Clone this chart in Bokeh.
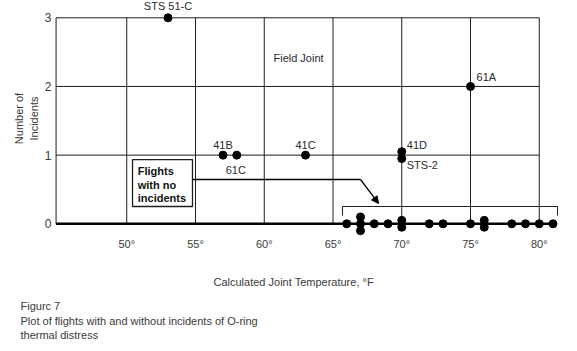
from bokeh.plotting import figure
from bokeh.models import Range1d, FixedTicker, Title, Arrow, NormalHead, ColumnDataSource
from bokeh.core.properties import value
from bokeh.embed import file_html
from bokeh.resources import INLINE

# ---- data ----
incident_temps = [53, 57, 58, 63, 70, 70, 75]
incident_counts = [3, 1, 1, 1, 1, 1, 2]
incident_names = ["STS 51-C", "41B", "61C", "41C", "41D", "STS-2", "61A"]
no_incident_temps = [66, 67, 67, 67, 68, 69, 70, 70, 72, 73, 75, 76, 76, 78, 79, 80, 81]
x_ticks = [50, 55, 60, 65, 70, 75, 80]
x_tick_labels = ["50°", "55°", "60°", "65°", "70°", "75°", "80°"]
y_ticks = [0, 1, 2, 3]
x_title = "Calculated Joint Temperature, °F"
y_title = "Number of\nIncidents"
caption = ["Figurc 7", "Plot of flights with and without incidents of O-ring", "thermal distress"]

# ---- styles ----
FONT = "Liberation Sans"
TXT = "#2a2a2a"
GRID = "#1e1e1e"
STACK_STEP = 0.1
label_style = {
    "STS 51-C": dict(dx=0, dy=-12, align="center"),
    "41B": dict(dx=0, dy=-10, align="center"),
    "61C": dict(dx=-1, dy=15, align="center"),
    "41C": dict(dx=0, dy=-10, align="center"),
    "41D": dict(dx=5, dy=-10, align="left"),
    "STS-2": dict(dx=5, dy=10, align="left"),
    "61A": dict(dx=6, dy=-9, align="left"),
}


def stacked(xs, ys):
    """Spread coincident points vertically (like the hand-drawn chart)."""
    keys = list(zip(xs, ys))
    out = []
    seen = {}
    for k in keys:
        n = keys.count(k)
        i = seen.get(k, 0)
        seen[k] = i + 1
        out.append(k[1] + ((n - 1) / 2 - i) * STACK_STEP)
    return out


X0, X1 = 44.6, 82.49
Y0, Y1 = -0.185, 3.252
LEFT_EDGE = 44.86

p = figure(width=577, height=351, x_range=Range1d(X0, X1), y_range=Range1d(Y0, Y1),
           output_backend="svg", toolbar_location=None,
           min_border_left=52, min_border_right=4, min_border_top=0, min_border_bottom=115)
p.grid.visible = False
p.outline_line_color = None
p.background_fill_color = "white"
p.border_fill_color = "white"

# axes
p.xaxis.ticker = FixedTicker(ticks=x_ticks)
p.xaxis.major_label_overrides = {t: l for t, l in zip(x_ticks, x_tick_labels)}
p.yaxis.ticker = FixedTicker(ticks=y_ticks)
for ax in (p.xaxis, p.yaxis):
    ax.axis_line_color = None
    ax.major_tick_line_color = None
    ax.minor_tick_line_color = None
    ax.major_tick_out = 0
    ax.major_tick_in = 0
    ax.minor_tick_out = 0
    ax.major_label_text_font = FONT
    ax.major_label_text_color = "#3a3a3a"
p.xaxis.major_label_standoff = 1
p.yaxis.major_label_standoff = 1
p.xaxis.major_label_text_font_size = "11px"
p.yaxis.major_label_text_font_size = "12px"
p.yaxis.axis_label = y_title
p.yaxis.axis_label_text_font = FONT
p.yaxis.axis_label_text_font_size = "11px"
p.yaxis.axis_label_text_font_style = "normal"
p.yaxis.axis_label_text_color = "#3a3a3a"
p.yaxis.axis_label_standoff = 2

# grid box
max_y = max(y_ticks)
p.segment(x0=x_ticks, y0=[0] * len(x_ticks), x1=x_ticks, y1=[max_y] * len(x_ticks),
          line_color=GRID, line_width=1)
p.segment(x0=[LEFT_EDGE], y0=[0], x1=[LEFT_EDGE], y1=[max_y], line_color=GRID, line_width=1)
p.segment(x0=[LEFT_EDGE] * 3, y0=y_ticks[1:], x1=[max(x_ticks)] * 3, y1=y_ticks[1:],
          line_color=GRID, line_width=1)
p.segment(x0=[LEFT_EDGE], y0=[0], x1=[max(no_incident_temps) + 0.2], y1=[0],
          line_color="black", line_width=2.5)

# flights with no incidents box, arrow and bracket
p.quad(left=[50.42], right=[54.78], top=[0.936], bottom=[0.252],
       fill_color="white", line_color=GRID, line_width=1.3)
p.text(x=[50.8], y=[0.86], text=["Flights\nwith no\nincidents"],
       text_font=value(FONT), text_font_style="bold", text_font_size="11px",
       text_color="#111111", text_baseline="top", text_align="left", text_line_height=1.15)
p.line(x=[54.78, 67.0], y=[0.645, 0.645], line_color="black", line_width=1.5)
p.add_layout(Arrow(end=NormalHead(size=7, fill_color="black", line_color="black"),
                   x_start=67.0, y_start=0.645, x_end=68.31, y_end=0.296,
                   line_color="black", line_width=1.3))
bx0 = min(no_incident_temps) - 0.31
bx1 = max(no_incident_temps) + 0.33
p.line(x=[bx0, bx0, bx1, bx1], y=[0.121, 0.252, 0.252, 0.121], line_color=GRID, line_width=1)

# points
p.scatter(x=no_incident_temps, y=stacked(no_incident_temps, [0] * len(no_incident_temps)),
          size=8, fill_color="black", line_color="black")
iy = stacked(incident_temps, incident_counts)
p.scatter(x=incident_temps, y=iy, size=8, fill_color="black", line_color="black")

src = ColumnDataSource(dict(
    x=incident_temps, y=incident_counts, text=incident_names,
    dx=[label_style[n]["dx"] for n in incident_names],
    dy=[label_style[n]["dy"] for n in incident_names],
    align=[label_style[n]["align"] for n in incident_names]))
p.text(x="x", y="y", text="text", x_offset="dx", y_offset="dy", text_align="align",
       text_baseline="middle", text_font=value(FONT), text_font_size="11px",
       text_color=TXT, source=src)

p.text(x=[60.67], y=[2.42], text=["Field Joint"], text_font=value(FONT),
       text_font_size="11px", text_color=TXT, text_baseline="middle", text_align="left")

# x axis title and caption, stacked below the axis
p.add_layout(Title(text="\n" + x_title, align="left", offset=161, standoff=18,
                   text_font=FONT, text_font_size="11px", text_font_style="normal",
                   text_color="#3a3a3a"), "below")
for i, line in enumerate(caption):
    p.add_layout(Title(text=line, align="left", offset=-32, standoff=(2 if i == 0 else 0),
                       text_font=FONT, text_font_size="11px", text_font_style="normal",
                       text_color="#3a3a3a"), "below")

open("out.html", "w").write(file_html(p, INLINE))
